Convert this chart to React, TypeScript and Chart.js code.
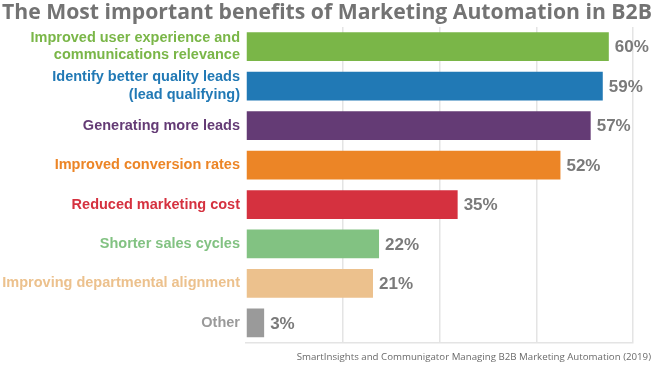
import React, { useEffect, useRef } from "react";
import { Chart, registerables } from "chart.js";

Chart.register(...registerables);

const categories: (string | string[])[] = [
  ["Improved user experience and", "communications relevance"],
  ["Identify better quality leads", "(lead qualifying)"],
  "Generating more leads",
  "Improved conversion rates",
  "Reduced marketing cost",
  "Shorter sales cycles",
  "Improving departmental alignment",
  "Other",
];
const values = [60, 59, 57, 52, 35, 22, 21, 3];
const barColors = ["#7ab648", "#2179b5", "#643b75", "#ec8526", "#d5313f", "#82c282", "#ecc18d", "#9a9a9a"];
const labelColors = ["#7ab648", "#2179b5", "#643b75", "#ec8526", "#d5313f", "#82c282", "#ecc18d", "#9a9a9a"];
const titleText = "The Most important benefits of Marketing Automation in B2B";
const sourceText = "SmartInsights and Communigator Managing B2B Marketing Automation (2019)";

const decorPlugin = {
  id: "decor",
  afterDraw(chart: any) {
    const ctx = chart.ctx;
    ctx.save();
    ctx.font = 'bold 21.2px "Open Sans"';
    ctx.fillStyle = "#737373";
    ctx.textAlign = "left";
    ctx.textBaseline = "alphabetic";
    ctx.fillText(titleText, 2, 19);

    ctx.font = '9.7px "Open Sans"';
    ctx.fillStyle = "#6a6a6a";
    ctx.textAlign = "right";
    ctx.fillText(sourceText, 651, 360);

    const meta = chart.getDatasetMeta(0);
    ctx.font = 'bold 17px "Liberation Sans"';
    ctx.fillStyle = "#7a7a7a";
    ctx.textAlign = "left";
    ctx.textBaseline = "middle";
    meta.data.forEach((bar: any, i: number) => {
      ctx.fillText(values[i] + "%", bar.x + 6, bar.y + 1);
    });
    ctx.restore();
  },
};

export default function App() {
  const ref = useRef<HTMLCanvasElement>(null);
  useEffect(() => {
    if (!ref.current) return;
    const chart = new Chart(ref.current, {
      type: "bar",
      data: {
        labels: categories,
        datasets: [
          {
            data: values,
            backgroundColor: barColors,
            borderWidth: 0,
            barPercentage: 0.73,
            categoryPercentage: 1,
          },
        ],
      },
      options: {
        indexAxis: "y",
        animation: false,
        responsive: true,
        maintainAspectRatio: false,
        layout: { padding: { top: 27, bottom: 22, left: 0, right: 22 } },
        plugins: {
          legend: { display: false },
          tooltip: { enabled: false },
          title: { display: false },
        },
        scales: {
          x: {
            min: 0,
            max: 64,
            ticks: { display: false, stepSize: 16 },
            grid: {
              drawTicks: false,
              color: (c: any) => (c.index === 0 ? "rgba(0,0,0,0)" : "#e4e4e4"),
              lineWidth: 1.5,
            },
            border: { display: true, color: "#e4e4e4", width: 1.5 },
          },
          y: {
            grid: { display: false, drawTicks: false, tickLength: 0 },
            border: { display: false },
            afterFit: (scale: any) => {
              scale.width = 246;
            },
            ticks: {
              padding: 6,
              color: (c: any) => labelColors[c.index],
              font: { family: '"Liberation Sans"', size: 14.5, weight: "bold", lineHeight: 1.2 },
            },
          },
        },
      },
      plugins: [decorPlugin],
    });
    return () => chart.destroy();
  }, []);
  return (
    <div style={{ position: "absolute", left: 0, top: 0, width: 655, height: 366, background: "#fff" }}>
      <canvas ref={ref} />
    </div>
  );
}
